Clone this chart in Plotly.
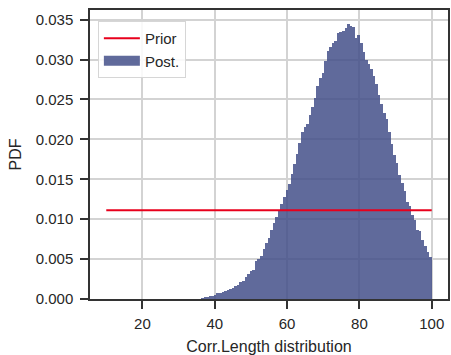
import numpy as np
import plotly.graph_objects as go

# Posterior histogram of the correlation length (density per bin)
post_lo, post_hi, n_bins = 36.2, 100.0, 90
post_density = [
    0.0001, 0.0002, 0.0003, 0.0004, 0.0004, 0.0005, 0.0007, 0.0008, 0.0009, 0.0010,
    0.0011, 0.0012, 0.0014, 0.0016, 0.0018, 0.0021, 0.0023, 0.0027, 0.0031, 0.0035,
    0.0036, 0.0047, 0.0050, 0.0054, 0.0063, 0.0070, 0.0076, 0.0086, 0.0095, 0.0103,
    0.0110, 0.0119, 0.0128, 0.0136, 0.0144, 0.0157, 0.0169, 0.0182, 0.0196, 0.0209,
    0.0215, 0.0219, 0.0231, 0.0241, 0.0252, 0.0267, 0.0277, 0.0283, 0.0298, 0.0311,
    0.0316, 0.0321, 0.0323, 0.0333, 0.0334, 0.0336, 0.0339, 0.0344, 0.0342, 0.0341,
    0.0327, 0.0331, 0.0321, 0.0310, 0.0300, 0.0294, 0.0288, 0.0279, 0.0269, 0.0255,
    0.0244, 0.0233, 0.0225, 0.0209, 0.0194, 0.0180, 0.0170, 0.0155, 0.0145, 0.0135,
    0.0122, 0.0117, 0.0105, 0.0099, 0.0087, 0.0085, 0.0074, 0.0066, 0.0059, 0.0052,
]

# Uniform prior on [10, 100]
prior_x = [10, 100]
prior_y = [1 / 90, 1 / 90]

x_ticks = [20, 40, 60, 80, 100]
y_ticks = [0.000, 0.005, 0.010, 0.015, 0.020, 0.025, 0.030, 0.035]

POST_COLOR = "rgba(66,78,136,0.84)"
FONT = "Liberation Sans, Arial, sans-serif"

edges = np.linspace(post_lo, post_hi, n_bins + 1)
centers = 0.5 * (edges[:-1] + edges[1:])
widths = np.diff(edges)

fig = go.Figure()
fig.add_trace(go.Bar(
    x=centers, y=post_density, width=widths, name="Post.",
    marker=dict(color=POST_COLOR, line=dict(width=0)),
    showlegend=False,
))
fig.add_trace(go.Scatter(
    x=prior_x, y=prior_y, mode="lines", name="Prior",
    line=dict(color="#e8001c", width=2),
))
# legend entry for the histogram drawn as a filled patch
fig.add_trace(go.Scatter(
    x=[None], y=[None], mode="lines", name="Post.",
    line=dict(color=POST_COLOR, width=11),
))

axis_common = dict(
    showline=True, linecolor="#333333", linewidth=1.5, mirror=True,
    ticks="outside", ticklen=8, tickwidth=1.5, tickcolor="#333333",
    showgrid=True, gridcolor="#d3d3d3", gridwidth=1.5, zeroline=False,
    tickfont=dict(family=FONT, size=15, color="#262626"),
)

fig.update_layout(
    width=451, height=355,
    margin=dict(l=90, r=1, t=10, b=54),
    paper_bgcolor="white", plot_bgcolor="white",
    bargap=0,
    font=dict(family=FONT, color="#262626"),
    xaxis=dict(
        range=[5.5, 104.5], tickvals=x_ticks, ticktext=[str(v) for v in x_ticks],
        title=dict(text="Corr.Length distribution", font=dict(size=16), standoff=11),
        ticklabelstandoff=2,
        **axis_common,
    ),
    yaxis=dict(
        range=[0, 0.0362], tickvals=y_ticks, ticktext=[f"{v:.3f}" for v in y_ticks],
        title=dict(text="PDF", font=dict(size=16), standoff=10),
        ticklabelstandoff=4,
        **axis_common,
    ),
    legend=dict(
        x=0.022, y=0.962, xanchor="left", yanchor="top",
        bgcolor="rgba(255,255,255,0.85)", bordercolor="#d6d6d6", borderwidth=1,
        font=dict(size=15, color="#262626"),
        itemwidth=36, tracegroupgap=0,
    ),
    showlegend=True,
)

fig.write_html("out.html")
